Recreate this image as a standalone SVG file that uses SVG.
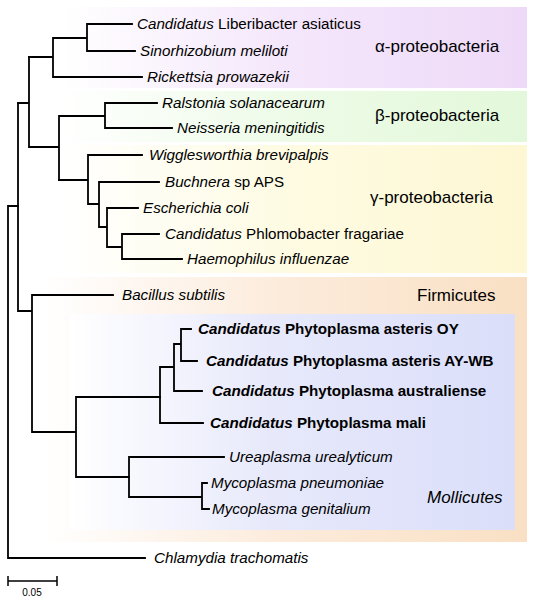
<svg xmlns="http://www.w3.org/2000/svg" width="535" height="600" viewBox="0 0 535 600">
<defs>
<linearGradient id="gA" x1="0" y1="0" x2="1" y2="0"><stop offset="0" stop-color="#ffffff"/><stop offset="0.5" stop-color="#f4e6fb"/><stop offset="1" stop-color="#eedaf8"/></linearGradient>
<linearGradient id="gB" x1="0" y1="0" x2="1" y2="0"><stop offset="0" stop-color="#ffffff"/><stop offset="0.5" stop-color="#edfbe7"/><stop offset="1" stop-color="#e3f8da"/></linearGradient>
<linearGradient id="gG" x1="0" y1="0" x2="1" y2="0"><stop offset="0" stop-color="#ffffff"/><stop offset="0.5" stop-color="#fefbe2"/><stop offset="1" stop-color="#fdf7d3"/></linearGradient>
<linearGradient id="gF" x1="0" y1="0" x2="1" y2="0"><stop offset="0" stop-color="#ffffff"/><stop offset="0.5" stop-color="#fcebdb"/><stop offset="1" stop-color="#f9e0c4"/></linearGradient>
<linearGradient id="gM" x1="0" y1="0" x2="1" y2="0"><stop offset="0" stop-color="#ffffff"/><stop offset="0.45" stop-color="#e7e9fb"/><stop offset="1" stop-color="#dadef9"/></linearGradient>
</defs>
<style>
.e{fill:none;stroke:#000;stroke-width:1.8;stroke-linecap:square}
text{font-family:"Liberation Sans",Arial,sans-serif;fill:#000}
.l{font-size:15.2px}
.i{font-style:italic}
.b{font-weight:bold}
.g{font-size:17px}
.s{font-size:10px}
</style>
<rect width="535" height="600" fill="#fff"/>
<g id="bands">
<rect x="60" y="7" width="467" height="81" fill="url(#gA)"/>
<rect x="60" y="91" width="467" height="51" fill="url(#gB)"/>
<rect x="60" y="145" width="467" height="128" fill="url(#gG)"/>
<rect x="40" y="277" width="487" height="265" fill="url(#gF)"/>
<rect x="70" y="314" width="445" height="216" fill="url(#gM)"/>
</g>
<g id="connectors">
<path class="e" d="M87,24H132 M87,51H135 M87,24V51 M53,38H87 M53,77H142 M53,38V77 M29,57H53"/>
<path class="e" d="M105,103H157 M105,128H172 M105,103V128 M59,116H105 M59,116V180 M29,147H59 M29,57V147 M18,103H29"/>
<path class="e" d="M88,155H142 M88,155V204 M59,180H88 M88,204H99 M99,182H159 M99,182V227 M99,227H107 M107,208H138 M107,208V247 M107,247H122 M122,234H159 M122,259H182 M122,234V259"/>
<path class="e" d="M18,103V311 M18,311H32 M32,295H113 M32,295V432 M32,432H76 M76,397V477 M76,397H160 M76,477H129"/>
<path class="e" d="M160,367V423 M160,423H203 M160,367H174 M174,344V391 M174,391H202 M174,344H181 M181,329V361 M181,329H191 M181,361H197"/>
<path class="e" d="M129,457V497 M129,457H224 M129,497H202 M202,483V509 M202,483H207 M202,509H209"/>
<path class="e" d="M8,206H18 M8,206V558 M8,558H145"/>
</g>
<g id="leaves">
<text class="l" x="137" y="29"><tspan class="i">Candidatus</tspan> Liberibacter asiaticus</text>
<text class="l i" x="140" y="56">Sinorhizobium meliloti</text>
<text class="l i" x="147" y="82">Rickettsia prowazekii</text>
<text class="l i" x="162" y="108">Ralstonia solanacearum</text>
<text class="l i" x="177" y="133">Neisseria meningitidis</text>
<text class="l i" x="149" y="160">Wigglesworthia brevipalpis</text>
<text class="l" x="165" y="187"><tspan class="i">Buchnera</tspan> sp APS</text>
<text class="l i" x="143" y="213">Escherichia coli</text>
<text class="l" x="165" y="239"><tspan class="i">Candidatus</tspan> Phlomobacter fragariae</text>
<text class="l i" x="187" y="264">Haemophilus influenzae</text>
<text class="l i" x="122" y="300">Bacillus subtilis</text>
<text class="l b" x="198" y="334"><tspan class="i">Candidatus</tspan> Phytoplasma asteris OY</text>
<text class="l b" x="206" y="366"><tspan class="i">Candidatus</tspan> Phytoplasma asteris AY-WB</text>
<text class="l b" x="212" y="396"><tspan class="i">Candidatus</tspan> Phytoplasma australiense</text>
<text class="l b" x="210" y="428"><tspan class="i">Candidatus</tspan> Phytoplasma mali</text>
<text class="l i" x="229" y="462">Ureaplasma urealyticum</text>
<text class="l i" x="211" y="488">Mycoplasma pneumoniae</text>
<text class="l i" x="212" y="514">Mycoplasma genitalium</text>
<text class="l i" x="154" y="563">Chlamydia trachomatis</text>
</g>
<g id="groups">
<text class="g" x="375" y="52">α-proteobacteria</text>
<text class="g" x="375" y="121">β-proteobacteria</text>
<text class="g" x="370" y="203">γ-proteobacteria</text>
<text class="g" x="417" y="301">Firmicutes</text>
<text class="g i" x="427" y="503">Mollicutes</text>
</g>
<g id="scale">
<path class="e" d="M8,581H57 M8,576V586 M57,576V586" style="stroke-linecap:butt;stroke-width:1.5"/>
<text class="s" x="32" y="596" text-anchor="middle">0.05</text>
</g>
</svg>
